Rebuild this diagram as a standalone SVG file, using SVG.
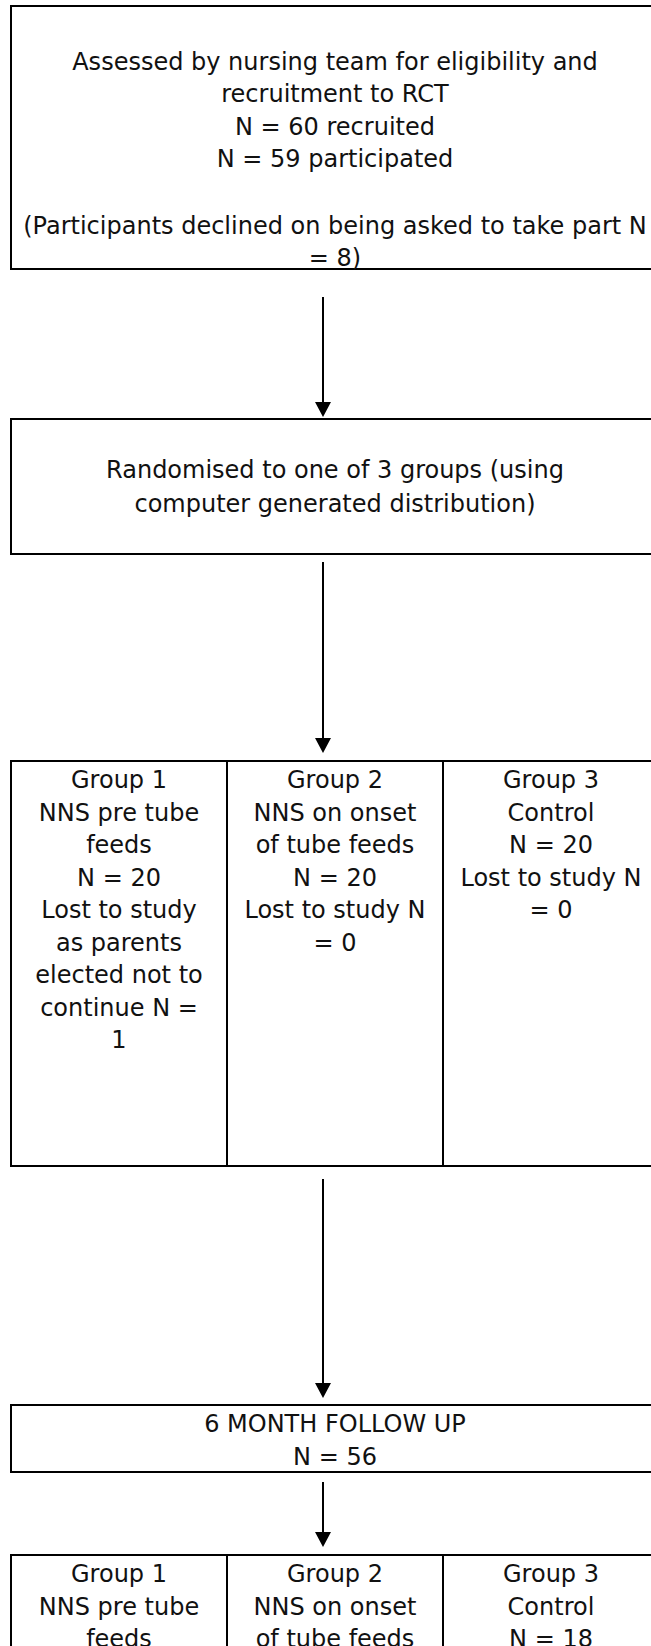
<svg xmlns="http://www.w3.org/2000/svg" width="651" height="1646" viewBox="0 0 651 1646">
<style>
.box{fill:#fff;stroke:#000;stroke-width:2}
.div{stroke:#000;stroke-width:2}
.t{font-family:"DejaVu Sans",sans-serif;font-size:24px;fill:#111;text-anchor:middle}
.con{stroke:#000;stroke-width:2;fill:none}
.head{fill:#000}
</style>
<rect width="651" height="1646" fill="#fff"/>
<g id="connectors">
<line class="con" x1="323" y1="297" x2="323" y2="403"/>
<path class="head" d="M315,402 L331,402 L323,417 Z"/>
<line class="con" x1="323" y1="562" x2="323" y2="739"/>
<path class="head" d="M315,738 L331,738 L323,753 Z"/>
<line class="con" x1="323" y1="1179" x2="323" y2="1384"/>
<path class="head" d="M315,1383 L331,1383 L323,1398 Z"/>
<line class="con" x1="323" y1="1482" x2="323" y2="1533"/>
<path class="head" d="M315,1532 L331,1532 L323,1547 Z"/>
</g>
<g id="assessed">
<rect class="box" x="11" y="6" width="648" height="263"/>
<text class="t" x="335" y="70">Assessed by nursing team for eligibility and</text>
<text class="t" x="335" y="102">recruitment to RCT</text>
<text class="t" x="335" y="135">N = 60 recruited</text>
<text class="t" x="335" y="167">N = 59 participated</text>
<text class="t" x="335" y="234">(Participants declined on being asked to take part N</text>
<text class="t" x="335" y="266">= 8)</text>
</g>
<g id="randomised">
<rect class="box" x="11" y="419" width="648" height="135"/>
<text class="t" x="335" y="478">Randomised to one of 3 groups (using</text>
<text class="t" x="335" y="512">computer generated distribution)</text>
</g>
<g id="groups">
<rect class="box" x="11" y="761" width="648" height="405"/>
<line class="div" x1="227" y1="761" x2="227" y2="1166"/>
<line class="div" x1="443" y1="761" x2="443" y2="1166"/>
<g id="group1">
<text class="t" x="119" y="788">Group 1</text>
<text class="t" x="119" y="821">NNS pre tube</text>
<text class="t" x="119" y="853">feeds</text>
<text class="t" x="119" y="886">N = 20</text>
<text class="t" x="119" y="918">Lost to study</text>
<text class="t" x="119" y="951">as parents</text>
<text class="t" x="119" y="983">elected not to</text>
<text class="t" x="119" y="1016">continue N =</text>
<text class="t" x="119" y="1048">1</text>
</g>
<g id="group2">
<text class="t" x="335" y="788">Group 2</text>
<text class="t" x="335" y="821">NNS on onset</text>
<text class="t" x="335" y="853">of tube feeds</text>
<text class="t" x="335" y="886">N = 20</text>
<text class="t" x="335" y="918">Lost to study N</text>
<text class="t" x="335" y="951">= 0</text>
</g>
<g id="group3">
<text class="t" x="551" y="788">Group 3</text>
<text class="t" x="551" y="821">Control</text>
<text class="t" x="551" y="853">N = 20</text>
<text class="t" x="551" y="886">Lost to study N</text>
<text class="t" x="551" y="918">= 0</text>
</g>
</g>
<g id="followup">
<rect class="box" x="11" y="1405" width="648" height="67"/>
<text class="t" x="335" y="1432">6 MONTH FOLLOW UP</text>
<text class="t" x="335" y="1465">N = 56</text>
</g>
<g id="groups-followup">
<rect class="box" x="11" y="1555" width="648" height="150"/>
<line class="div" x1="227" y1="1555" x2="227" y2="1705"/>
<line class="div" x1="443" y1="1555" x2="443" y2="1705"/>
<g id="fgroup1">
<text class="t" x="119" y="1582">Group 1</text>
<text class="t" x="119" y="1615">NNS pre tube</text>
<text class="t" x="119" y="1647">feeds</text>
</g>
<g id="fgroup2">
<text class="t" x="335" y="1582">Group 2</text>
<text class="t" x="335" y="1615">NNS on onset</text>
<text class="t" x="335" y="1647">of tube feeds</text>
</g>
<g id="fgroup3">
<text class="t" x="551" y="1582">Group 3</text>
<text class="t" x="551" y="1615">Control</text>
<text class="t" x="551" y="1647">N = 18</text>
</g>
</g>
</svg>
